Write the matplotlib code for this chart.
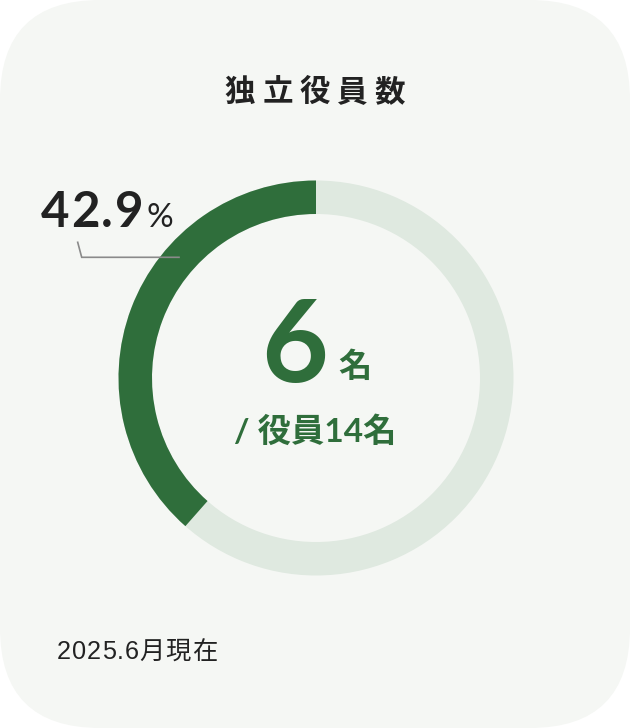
import matplotlib
matplotlib.use("Agg")
import matplotlib.pyplot as plt
from matplotlib.patches import Wedge, FancyBboxPatch

# ---- data ----
title_chars = list("独立役員数")
independent = 6
total = 14
percent_label = "42.9"
arc_share_drawn = 0.385      # share of the ring drawn dark in the picture
unit = "名"
sub_label = "/ 役員14名"
date_label = "2025.6月現在"

W, H = 630, 728
BG = "#f5f7f4"
DARK = "#2f6e3b"
LIGHT = "#dfe9e0"
TXT = "#222222"

fig = plt.figure(figsize=(W / 100, H / 100), dpi=100)
fig.patch.set_facecolor("white")
ax = fig.add_axes([0, 0, 1, 1])
ax.set_xlim(0, W)
ax.set_ylim(0, H)
ax.axis("off")
renderer = fig.canvas.get_renderer()

def Y(y):
    return H - y

def spaced(text, x, y, spacing, **kw):
    """Draw text char by char starting at left x with extra spacing (px)."""
    for ch in text:
        t = ax.text(x, y, ch, ha="left", **kw)
        bb = t.get_window_extent(renderer=renderer)
        x += bb.width + spacing
    return x

# rounded background
ax.add_patch(FancyBboxPatch((0, 0), W, H, boxstyle="round,pad=0,rounding_size=100",
                            facecolor=BG, edgecolor="none", zorder=0))

cx, cy = 316, Y(378)
R, ring = 197.5, 33.5

ax.add_patch(Wedge((cx, cy), R, 0, 360, width=ring, facecolor=LIGHT, edgecolor="none", zorder=1))
ax.add_patch(Wedge((cx, cy), R, 90, 90 + 360 * arc_share_drawn, width=ring,
                   facecolor=DARK, edgecolor="none", zorder=2))

cjk = ["Noto Sans CJK JP", "DejaVu Sans"]
num = ["Lato", "Noto Sans CJK JP", "DejaVu Sans"]

# title with letter spacing
for i, ch in enumerate(title_chars):
    ax.text(240 + 37.5 * i, Y(92), ch, fontsize=22, fontweight="bold", family=cjk,
            color=TXT, ha="center", va="center", zorder=5)

# percentage label
xe = spaced(percent_label, 41, Y(227), 1.6, fontsize=35.5, fontweight="bold", family=num,
            color=TXT, va="baseline", zorder=5)
ax.text(xe + 2, Y(227), "%", fontsize=24, family=num, color=TXT, ha="left",
        va="baseline", zorder=5)

# leader line
ax.plot([77.7, 81.7, 179], [Y(242.3), Y(257.3), Y(257.3)], color="#8a8a8a",
        lw=1.2, solid_joinstyle="miter", zorder=4)

# centre text
ax.text(295, Y(382), str(independent), fontsize=83, fontweight="bold", family=num,
        color=DARK, ha="center", va="baseline", zorder=5)
ax.text(355, Y(367), unit, fontsize=24, fontweight="bold", family=cjk,
        color=DARK, ha="center", va="center", zorder=5)
ax.text(315, Y(431), sub_label, fontsize=24, fontweight="bold", family=num,
        color=DARK, ha="center", va="center", zorder=5)

# date
spaced(date_label, 57, Y(652), 0.9, fontsize=18.2,
       family=["Liberation Sans", "Noto Sans CJK JP"], color=TXT, va="center", zorder=5)

fig.savefig("out.png", dpi=100, facecolor="white")
